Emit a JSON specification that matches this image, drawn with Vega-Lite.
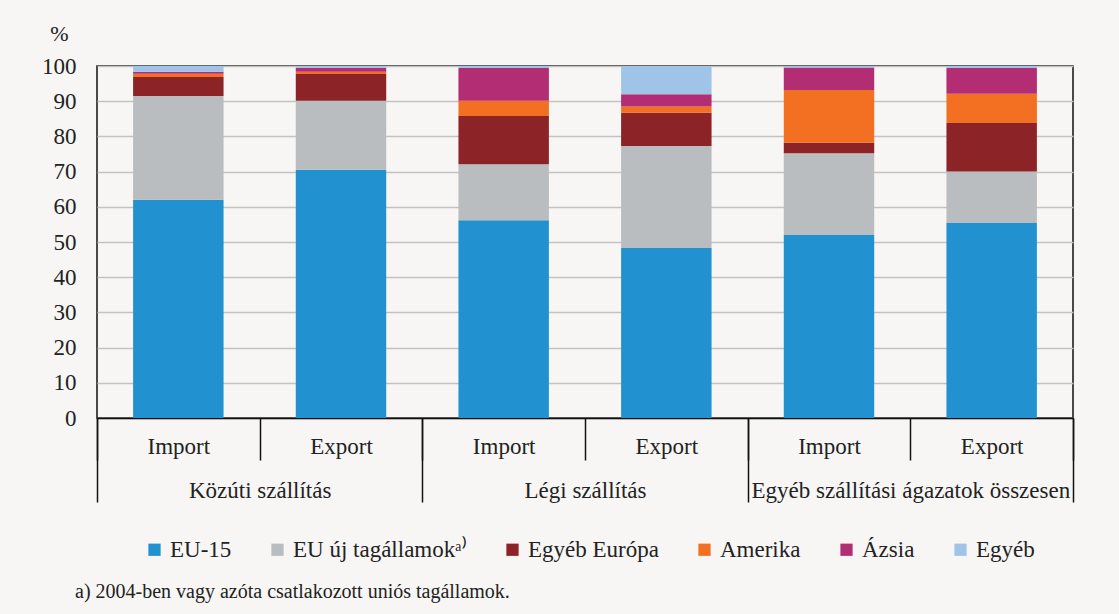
{
  "$schema": "https://vega.github.io/schema/vega-lite/v6.json",
  "width": 976,
  "height": 352,
  "autosize": {"type": "none"},
  "padding": {"left": 97, "top": 66, "right": 46, "bottom": 196},
  "background": "#f7f6f4",
  "config": {
    "font": "Liberation Serif",
    "view": {"stroke": "#111111", "strokeWidth": 1.5},
    "axis": {"labelColor": "#222222", "titleColor": "#222222", "labelFont": "Liberation Serif", "titleFont": "Liberation Serif"},
    "legend": {"labelFont": "Liberation Serif"},
    "title": {"font": "Liberation Serif"}
  },
  "data": {
    "values": [
      {"bar": "Közúti szállítás|Import", "group": "Közúti szállítás", "region": "EU-15", "value": 62.0},
      {"bar": "Közúti szállítás|Import", "group": "Közúti szállítás", "region": "EU új tagállamok", "value": 29.5},
      {"bar": "Közúti szállítás|Import", "group": "Közúti szállítás", "region": "Egyéb Európa", "value": 5.4},
      {"bar": "Közúti szállítás|Import", "group": "Közúti szállítás", "region": "Amerika", "value": 0.9},
      {"bar": "Közúti szállítás|Import", "group": "Közúti szállítás", "region": "Ázsia", "value": 0.6},
      {"bar": "Közúti szállítás|Import", "group": "Közúti szállítás", "region": "Egyéb", "value": 1.6},
      {"bar": "Közúti szállítás|Export", "group": "Közúti szállítás", "region": "EU-15", "value": 70.5},
      {"bar": "Közúti szállítás|Export", "group": "Közúti szállítás", "region": "EU új tagállamok", "value": 19.6},
      {"bar": "Közúti szállítás|Export", "group": "Közúti szállítás", "region": "Egyéb Európa", "value": 7.6},
      {"bar": "Közúti szállítás|Export", "group": "Közúti szállítás", "region": "Amerika", "value": 0.7},
      {"bar": "Közúti szállítás|Export", "group": "Közúti szállítás", "region": "Ázsia", "value": 1.1},
      {"bar": "Közúti szállítás|Export", "group": "Közúti szállítás", "region": "Egyéb", "value": 0.5},
      {"bar": "Légi szállítás|Import", "group": "Légi szállítás", "region": "EU-15", "value": 56.2},
      {"bar": "Légi szállítás|Import", "group": "Légi szállítás", "region": "EU új tagállamok", "value": 15.9},
      {"bar": "Légi szállítás|Import", "group": "Légi szállítás", "region": "Egyéb Európa", "value": 13.7},
      {"bar": "Légi szállítás|Import", "group": "Légi szállítás", "region": "Amerika", "value": 4.3},
      {"bar": "Légi szállítás|Import", "group": "Légi szállítás", "region": "Ázsia", "value": 9.3},
      {"bar": "Légi szállítás|Import", "group": "Légi szállítás", "region": "Egyéb", "value": 0.6},
      {"bar": "Légi szállítás|Export", "group": "Légi szállítás", "region": "EU-15", "value": 48.3},
      {"bar": "Légi szállítás|Export", "group": "Légi szállítás", "region": "EU új tagállamok", "value": 29.0},
      {"bar": "Légi szállítás|Export", "group": "Légi szállítás", "region": "Egyéb Európa", "value": 9.4},
      {"bar": "Légi szállítás|Export", "group": "Légi szállítás", "region": "Amerika", "value": 1.8},
      {"bar": "Légi szállítás|Export", "group": "Légi szállítás", "region": "Ázsia", "value": 3.5},
      {"bar": "Légi szállítás|Export", "group": "Légi szállítás", "region": "Egyéb", "value": 8.0},
      {"bar": "Egyéb szállítási ágazatok összesen|Import", "group": "Egyéb szállítási ágazatok összesen", "region": "EU-15", "value": 52.0},
      {"bar": "Egyéb szállítási ágazatok összesen|Import", "group": "Egyéb szállítási ágazatok összesen", "region": "EU új tagállamok", "value": 23.2},
      {"bar": "Egyéb szállítási ágazatok összesen|Import", "group": "Egyéb szállítási ágazatok összesen", "region": "Egyéb Európa", "value": 3.0},
      {"bar": "Egyéb szállítási ágazatok összesen|Import", "group": "Egyéb szállítási ágazatok összesen", "region": "Amerika", "value": 15.0},
      {"bar": "Egyéb szállítási ágazatok összesen|Import", "group": "Egyéb szállítási ágazatok összesen", "region": "Ázsia", "value": 6.4},
      {"bar": "Egyéb szállítási ágazatok összesen|Import", "group": "Egyéb szállítási ágazatok összesen", "region": "Egyéb", "value": 0.4},
      {"bar": "Egyéb szállítási ágazatok összesen|Export", "group": "Egyéb szállítási ágazatok összesen", "region": "EU-15", "value": 55.4},
      {"bar": "Egyéb szállítási ágazatok összesen|Export", "group": "Egyéb szállítási ágazatok összesen", "region": "EU új tagállamok", "value": 14.6},
      {"bar": "Egyéb szállítási ágazatok összesen|Export", "group": "Egyéb szállítási ágazatok összesen", "region": "Egyéb Európa", "value": 13.8},
      {"bar": "Egyéb szállítási ágazatok összesen|Export", "group": "Egyéb szállítási ágazatok összesen", "region": "Amerika", "value": 8.3},
      {"bar": "Egyéb szállítási ágazatok összesen|Export", "group": "Egyéb szállítási ágazatok összesen", "region": "Ázsia", "value": 7.3},
      {"bar": "Egyéb szállítási ágazatok összesen|Export", "group": "Egyéb szállítási ágazatok összesen", "region": "Egyéb", "value": 0.6}
    ]
  },
  "layer": [
    {
      "transform": [
        {"calculate": "indexof(['EU-15', 'EU új tagállamok', 'Egyéb Európa', 'Amerika', 'Ázsia', 'Egyéb'], datum.region)", "as": "stackOrder"}
      ],
      "mark": {"type": "bar", "width": {"band": 0.556}},
      "encoding": {
        "x": {
          "field": "bar",
          "type": "nominal",
          "sort": null,
          "scale": {"paddingInner": 0, "paddingOuter": 0},
          "axis": {
            "orient": "bottom",
            "title": null,
            "labelAngle": 0,
            "labelExpr": "split(datum.label, '|')[1]",
            "labelFontSize": 23,
            "labelBaseline": "middle",
            "labelPadding": -14,
            "labelLimit": 0,
            "tickBand": "extent",
            "tickSize": 42,
            "tickColor": "#111111",
            "tickWidth": 1.5,
            "domainColor": "#111111",
            "domainWidth": 1.5,
            "grid": false
          }
        },
        "y": {
          "field": "value",
          "type": "quantitative",
          "stack": "zero",
          "scale": {"domain": [0, 100]},
          "axis": {
            "title": "%",
            "titleAngle": 0,
            "titleX": -38,
            "titleY": -33,
            "titleAlign": "center",
            "titleBaseline": "middle",
            "titleFontSize": 22,
            "titleFontWeight": "normal",
            "values": [0, 10, 20, 30, 40, 50, 60, 70, 80, 90, 100],
            "labelFontSize": 23,
            "labelPadding": 21,
            "ticks": false,
            "domain": false,
            "grid": true,
            "gridColor": "#c3c3c3",
            "gridWidth": 1.6
          }
        },
        "color": {
          "field": "region",
          "type": "nominal",
          "sort": ["EU-15", "EU új tagállamok", "Egyéb Európa", "Amerika", "Ázsia", "Egyéb"],
          "scale": {
            "domain": ["EU-15", "EU új tagállamok", "Egyéb Európa", "Amerika", "Ázsia", "Egyéb"],
            "range": ["#2191d0", "#b9bdc0", "#8b2327", "#f36f21", "#b22d74", "#9fc4e7"]
          },
          "legend": {
            "orient": "none",
            "legendX": 46,
            "legendY": 472,
            "direction": "horizontal",
            "columns": 6,
            "title": null,
            "symbolType": "square",
            "symbolSize": 150,
            "symbolStrokeWidth": 0,
            "labelFont": "Liberation Serif",
            "labelFontSize": 23,
            "labelColor": "#222222",
            "labelOffset": 4,
            "labelLimit": 0,
            "columnPadding": 34,
            "labelExpr": "datum.label == 'EU új tagállamok' ? datum.label + 'ᵃ⁾' : datum.label"
          }
        },
        "order": {"field": "stackOrder", "type": "quantitative", "sort": "ascending"}
      }
    },
    {
      "mark": {"type": "point", "opacity": 0},
      "encoding": {
        "x": {
          "field": "group",
          "type": "nominal",
          "sort": null,
          "scale": {"paddingInner": 0, "paddingOuter": 0},
          "axis": {
            "orient": "bottom",
            "title": null,
            "labelAngle": 0,
            "labelFontSize": 23,
            "labelBaseline": "middle",
            "labelPadding": -12,
            "labelLimit": 0,
            "tickBand": "extent",
            "tickSize": 84,
            "tickColor": "#111111",
            "tickWidth": 1.5,
            "domain": false,
            "grid": false
          }
        }
      }
    }
  ],
  "resolve": {"scale": {"x": "independent"}, "axis": {"x": "independent"}},
  "title": {
    "text": "a) 2004-ben vagy azóta csatlakozott uniós tagállamok.",
    "orient": "bottom",
    "anchor": "start",
    "frame": "group",
    "dx": -22,
    "offset": 20,
    "fontSize": 20,
    "fontWeight": "normal",
    "color": "#222222"
  }
}
